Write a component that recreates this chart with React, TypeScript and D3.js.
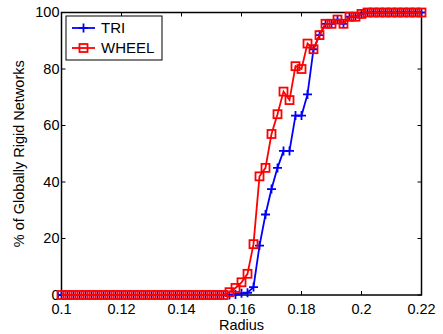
import * as d3 from "d3";
import { useEffect, useRef } from "react";

// radius values (x)
const radius = [
  0.1, 0.102, 0.104, 0.106, 0.108, 0.11, 0.112, 0.114, 0.116, 0.118,
  0.12, 0.122, 0.124, 0.126, 0.128, 0.13, 0.132, 0.134, 0.136, 0.138,
  0.14, 0.142, 0.144, 0.146, 0.148, 0.15, 0.152, 0.154, 0.156, 0.158,
  0.16, 0.162, 0.164, 0.166, 0.168, 0.17, 0.172, 0.174, 0.176, 0.178,
  0.18, 0.182, 0.184, 0.186, 0.188, 0.19, 0.192, 0.194, 0.196, 0.198,
  0.2, 0.202, 0.204, 0.206, 0.208, 0.21, 0.212, 0.214, 0.216, 0.218, 0.22,
];

// % of globally rigid networks
const tri = [
  0, 0, 0, 0, 0, 0, 0, 0, 0, 0,
  0, 0, 0, 0, 0, 0, 0, 0, 0, 0,
  0, 0, 0, 0, 0, 0, 0, 0, 0, 0.2,
  0.6, 0.8, 2.8, 17.5, 28.5, 37.5, 45, 51, 51, 63.5,
  63.5, 71, 87, 92, 96, 96, 97.5, 96, 98.5, 98.5,
  99.5, 100, 100, 100, 100, 100, 100, 100, 100, 100, 100,
];
const wheel = [
  0, 0, 0, 0, 0, 0, 0, 0, 0, 0,
  0, 0, 0, 0, 0, 0, 0, 0, 0, 0,
  0, 0, 0, 0, 0, 0, 0, 0, 1, 2.5,
  4.5, 7.5, 18, 42, 45, 57, 64, 72, 69, 81,
  80, 89, 87, 92, 96, 96, 97.5, 96, 98.5, 98.5,
  99.5, 100, 100, 100, 100, 100, 100, 100, 100, 100, 100,
];

const xTicks = [0.1, 0.12, 0.14, 0.16, 0.18, 0.2, 0.22];
const yTicks = [0, 20, 40, 60, 80, 100];

const W = 443;
const H = 334;
const FONT = "'Liberation Sans', Arial, sans-serif";

export default function App() {
  const svgRef = useRef<SVGSVGElement>(null);

  useEffect(() => {
    const svg = d3.select(svgRef.current);
    svg.selectAll("*").remove();

    const left = 61.5, right = 421.5, top = 12.5, bottom = 295;
    const x = d3.scaleLinear().domain([0.1, 0.22]).range([left, right]);
    const y = d3.scaleLinear().domain([0, 100]).range([bottom, top]);

    svg.append("rect").attr("width", W).attr("height", H).attr("fill", "#fff");

    // axes box
    svg.append("rect")
      .attr("x", left).attr("y", top)
      .attr("width", right - left).attr("height", bottom - top)
      .attr("fill", "none").attr("stroke", "#000").attr("stroke-width", 1.5);

    const tl = 4;
    const g = svg.append("g").attr("stroke", "#000").attr("stroke-width", 1);
    xTicks.forEach((t) => {
      g.append("line").attr("x1", x(t)).attr("x2", x(t)).attr("y1", bottom).attr("y2", bottom - tl);
      g.append("line").attr("x1", x(t)).attr("x2", x(t)).attr("y1", top).attr("y2", top + tl);
    });
    yTicks.forEach((t) => {
      g.append("line").attr("x1", left).attr("x2", left + tl).attr("y1", y(t)).attr("y2", y(t));
      g.append("line").attr("x1", right).attr("x2", right - tl).attr("y1", y(t)).attr("y2", y(t));
    });

    const txt = svg.append("g").attr("font-family", FONT).attr("font-size", 14.5).attr("fill", "#000");
    xTicks.forEach((t) => {
      txt.append("text").attr("x", x(t)).attr("y", 314)
        .attr("text-anchor", "middle").text(String(t));
    });
    yTicks.forEach((t) => {
      txt.append("text").attr("x", left - 2).attr("y", y(t)).attr("dy", "0.33em")
        .attr("text-anchor", "end").text(String(t));
    });
    txt.append("text").attr("x", (left + right) / 2).attr("y", 330)
      .attr("text-anchor", "middle").text("Radius");
    txt.append("text")
      .attr("transform", `translate(24,${(top + bottom) / 2}) rotate(-90)`)
      .attr("text-anchor", "middle").text("% of Globally Rigid Networks");

    const line = d3.line<number>().x((_, i) => x(radius[i])).y((d) => y(d));

    const drawPlus = (sel, cx, cy, s) => {
      sel.append("path").attr("d", `M${cx - s},${cy}H${cx + s}M${cx},${cy - s}V${cy + s}`)
        .attr("stroke", "#0000ff").attr("stroke-width", 1.8).attr("fill", "none");
    };
    const drawSquare = (sel, cx, cy, s) => {
      sel.append("rect").attr("x", cx - s).attr("y", cy - s).attr("width", 2 * s).attr("height", 2 * s)
        .attr("stroke", "#ff0000").attr("stroke-width", 1.8).attr("fill", "none");
    };

    // TRI
    svg.append("path").datum(tri).attr("d", line)
      .attr("fill", "none").attr("stroke", "#0000ff").attr("stroke-width", 1.8);
    const gt = svg.append("g");
    tri.forEach((v, i) => drawPlus(gt, x(radius[i]), y(v), 4.5));

    // WHEEL
    svg.append("path").datum(wheel).attr("d", line)
      .attr("fill", "none").attr("stroke", "#ff0000").attr("stroke-width", 1.8);
    const gw = svg.append("g");
    wheel.forEach((v, i) => drawSquare(gw, x(radius[i]), y(v), 4));

    // legend
    const lg = svg.append("g");
    lg.append("rect").attr("x", 66).attr("y", 16).attr("width", 96).attr("height", 44)
      .attr("fill", "#fff").attr("stroke", "#000").attr("stroke-width", 1);
    lg.append("line").attr("x1", 72).attr("x2", 95).attr("y1", 28).attr("y2", 28)
      .attr("stroke", "#0000ff").attr("stroke-width", 1.8);
    drawPlus(lg, 83.5, 28, 4.5);
    lg.append("line").attr("x1", 72).attr("x2", 95).attr("y1", 48).attr("y2", 48)
      .attr("stroke", "#ff0000").attr("stroke-width", 1.8);
    drawSquare(lg, 83.5, 48, 4);
    lg.append("text").attr("x", 101).attr("y", 28).attr("dy", "0.35em")
      .attr("font-family", FONT).attr("font-size", 15).text("TRI");
    lg.append("text").attr("x", 101).attr("y", 48).attr("dy", "0.35em")
      .attr("font-family", FONT).attr("font-size", 15).text("WHEEL");
  }, []);

  return (
    <svg ref={svgRef} width={W} height={H}
      style={{ position: "absolute", left: 0, top: 0, display: "block" }} />
  );
}
